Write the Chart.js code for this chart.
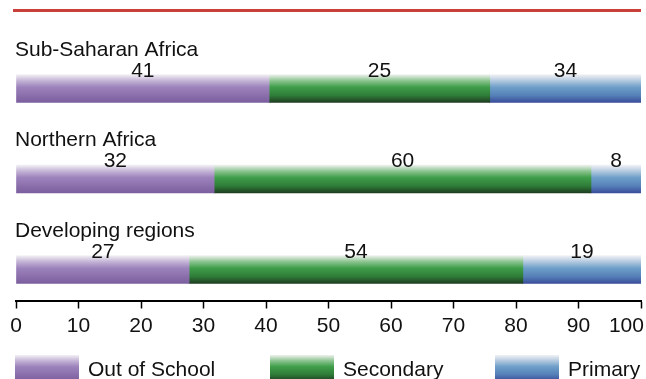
<!DOCTYPE html>
<html>
<head>
<meta charset="utf-8">
<script src="https://cdn.jsdelivr.net/npm/chart.js@4/dist/chart.umd.min.js"></script>
<style>
  html, body { margin: 0; padding: 0; background: #ffffff; }
  #wrap { position: relative; width: 646px; height: 379px; }
</style>
</head>
<body>
<div id="wrap"><canvas id="c" width="646" height="379"></canvas></div>
<script>
const categories = ["Sub-Saharan Africa", "Northern Africa", "Developing regions"];
const seriesNames = ["Out of School", "Secondary", "Primary"];
// bar lengths as drawn in the picture
const outOfSchool = [40.5, 31.7, 27.7];
const secondary = [35.3, 60.3, 53.4];
const primary = [24.2, 8, 18.9];
// numbers printed on the bars
const outOfSchoolLabels = ["41", "32", "27"];
const secondaryLabels = ["25", "60", "54"];
const primaryLabels = ["34", "8", "19"];
const xTicks = [0, 10, 20, 30, 40, 50, 60, 70, 80, 90, 100];

const FONT = '"Liberation Sans", Arial, Helvetica, sans-serif';
const BAR_T = 28;

const gradStops = [
  [[0, '#f2f0f4'], [0.22, '#c4b4d6'], [0.45, '#9d83bc'], [1, '#7b5e9e']],
  [[0, '#eef2ee'], [0.22, '#8cc490'], [0.45, '#3f9e4a'], [0.75, '#2f7c38'], [1, '#1e3d21']],
  [[0, '#f1f2f5'], [0.22, '#b3c9df'], [0.45, '#6e9fc9'], [0.75, '#5580b8'], [1, '#3a4c9a']]
];
const solid = ['#9b80ba', '#3b9a46', '#6a9bc6'];

function makeGrad(ctx, si, top, bottom) {
  const g = ctx.createLinearGradient(0, top, 0, bottom);
  gradStops[si].forEach(s => g.addColorStop(s[0], s[1]));
  return g;
}

function bg(si) {
  return function(context) {
    const chart = context.chart;
    if (!chart.chartArea || !chart.scales.y) return solid[si];
    const yc = chart.scales.y.getPixelForValue(context.dataIndex);
    return makeGrad(chart.ctx, si, yc - BAR_T / 2, yc + BAR_T / 2);
  };
}

const seriesValues = [outOfSchool, secondary, primary];
const seriesLabels = [outOfSchoolLabels, secondaryLabels, primaryLabels];
const datasets = seriesValues.map((vals, si) => ({
  label: seriesNames[si],
  data: vals.map((v, i) => ({ x: v, y: i })),
  valueLabels: seriesLabels[si],
  backgroundColor: bg(si),
  borderWidth: 0,
  barThickness: BAR_T
}));

const overlay = {
  id: 'overlay',
  afterDatasetsDraw(chart) {
    const ctx = chart.ctx;
    const ys = chart.scales.y;
    ctx.save();
    // top red rule
    ctx.fillStyle = '#c9403a';
    ctx.fillRect(13, 9, 628, 3);
    ctx.fillStyle = '#111111';
    ctx.font = '21px ' + FONT;
    ctx.textBaseline = 'alphabetic';
    // category labels
    categories.forEach((c, i) => {
      const yc = ys.getPixelForValue(i);
      ctx.textAlign = 'left';
      ctx.fillText(c, 15, yc - 33);
    });
    // value labels
    chart.data.datasets.forEach((ds, si) => {
      const meta = chart.getDatasetMeta(si);
      meta.data.forEach((el, i) => {
        const cx = (el.x + el.base) / 2;
        ctx.textAlign = 'center';
        ctx.fillText(ds.valueLabels[i], cx, el.y - 12);
      });
    });
    // legend
    const lx = [15, 270, 495];
    chart.data.datasets.forEach((ds, si) => {
      const top = 355, h = 26;
      ctx.fillStyle = makeGrad(ctx, si, top, top + h);
      ctx.fillRect(lx[si], top, 64, h);
      ctx.fillStyle = '#111111';
      ctx.textAlign = 'left';
      ctx.fillText(ds.label, lx[si] + 73, 376);
    });
    ctx.restore();
  }
};

new Chart(document.getElementById('c'), {
  type: 'bar',
  data: { datasets },
  options: {
    indexAxis: 'y',
    responsive: false,
    animation: false,
    devicePixelRatio: 1,
    layout: { padding: { left: 16, right: 5, top: 43.25, bottom: 0 } },
    plugins: { legend: { display: false }, tooltip: { enabled: false } },
    scales: {
      x: {
        type: 'linear',
        stacked: true,
        min: 0,
        max: 100,
        afterBuildTicks(scale) { scale.ticks = xTicks.map(v => ({ value: v })); },
        afterFit(scale) { scale.height = 78.5; scale.paddingLeft = 0; scale.paddingRight = 0; },
        border: { display: true, color: '#000000', width: 2 },
        grid: { drawOnChartArea: false, drawTicks: true, tickLength: 8, tickColor: '#000000', tickWidth: 1.5 },
        ticks: {
          color: '#111111', font: { family: FONT, size: 21 }, padding: 5, maxRotation: 0, autoSkip: false,
          callback: (v) => (v === 100 ? '100     ' : String(v))
        }
      },
      y: {
        type: 'linear',
        stacked: true,
        reverse: true,
        offset: false,
        min: -0.5,
        max: 2.3425,
        display: false
      }
    }
  },
  plugins: [overlay]
});
</script>
</body>
</html>
